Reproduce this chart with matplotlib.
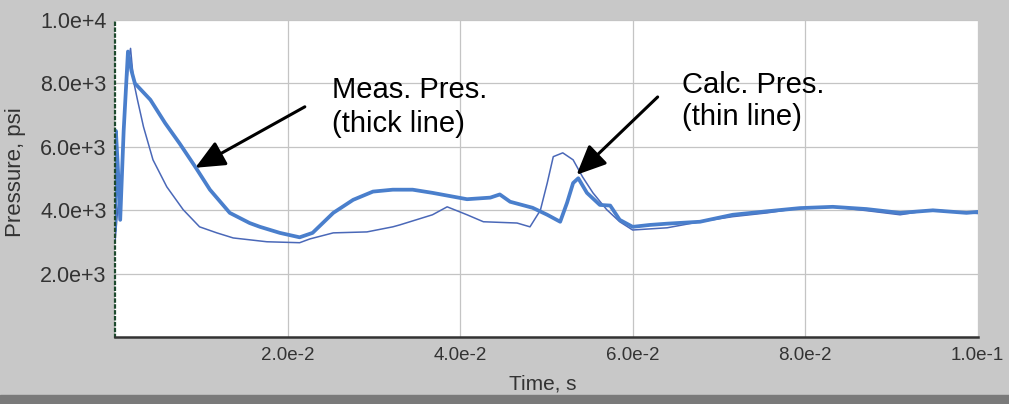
#!/usr/bin/env python
# measured vs calculated pressure trace
import numpy as np
import matplotlib.pyplot as plt

plt.rcParams['font.family'] = ['Liberation Sans', 'DejaVu Sans']

# measured pressure (thick line)
t_meas = [0.0, 0.0001, 0.0003, 0.0006, 0.001, 0.0015, 0.0019, 0.0023, 0.0041,
          0.0058, 0.0075, 0.0093, 0.011, 0.0133, 0.0156, 0.0168, 0.0191, 0.0214,
          0.0229, 0.0253, 0.0276, 0.0299, 0.0322, 0.0345, 0.0368, 0.0408, 0.0435,
          0.0446, 0.0458, 0.0484, 0.0501, 0.0516, 0.0524, 0.0531, 0.0537, 0.0547,
          0.0562, 0.0574, 0.0585, 0.06, 0.062, 0.064, 0.0678, 0.0716, 0.0756,
          0.0794, 0.0832, 0.0871, 0.091, 0.0948, 0.0987, 0.1]
p_meas = [3400, 6500, 5500, 3700, 6500, 9000, 8400, 8000, 7480,
          6750, 6100, 5370, 4650, 3920, 3600, 3480, 3290, 3150,
          3290, 3920, 4330, 4590, 4650, 4650, 4550, 4350, 4400,
          4500, 4270, 4080, 3860, 3640, 4240, 4860, 5010, 4550,
          4170, 4150, 3700, 3480, 3540, 3580, 3640, 3860, 3970,
          4070, 4110, 4040, 3920, 4000, 3920, 3950]

# calculated pressure (thin line)
t_calc = [0.0, 0.0003, 0.0008, 0.0012, 0.0016, 0.0018, 0.002, 0.0022, 0.0026,
          0.0033, 0.0044, 0.006, 0.0079, 0.0098, 0.0118, 0.0137, 0.0176, 0.0214,
          0.0226, 0.0253, 0.0292, 0.0322, 0.033, 0.0368, 0.0385, 0.0408, 0.0427,
          0.0466, 0.0481, 0.0493, 0.0501, 0.0508, 0.0519, 0.0531, 0.0542, 0.0554,
          0.057, 0.0585, 0.06, 0.064, 0.0678, 0.0716, 0.0756, 0.0794, 0.0832,
          0.0871, 0.091, 0.0948, 0.0987, 0.1]
p_calc = [3000, 4000, 5000, 7500, 8800, 9100, 8500, 8000, 7480,
          6630, 5590, 4740, 4020, 3480, 3290, 3130, 3010, 2980,
          3100, 3290, 3320, 3480, 3540, 3860, 4110, 3860, 3640,
          3600, 3480, 4000, 4860, 5690, 5810, 5590, 5050, 4550,
          4020, 3640, 3380, 3450, 3640, 3800, 3920, 4070, 4110,
          3990, 3860, 4020, 3920, 3900]

x_ticks = [0.02, 0.04, 0.06, 0.08, 0.1]
x_labels = ['2.0e-2', '4.0e-2', '6.0e-2', '8.0e-2', '1.0e-1']
y_ticks = [2000, 4000, 6000, 8000, 10000]
y_labels = ['2.0e+3', '4.0e+3', '6.0e+3', '8.0e+3', '1.0e+4']

fig = plt.figure(figsize=(10.09, 4.04), dpi=100, facecolor='#c8c8c8')
ax = fig.add_axes([0.114, 0.165, 0.855, 0.786])
ax.set_facecolor('white')

ax.plot(t_calc, p_calc, color='#4a68b8', lw=1.1)
ax.plot(t_meas, p_meas, color='#4a7fcc', lw=2.7)

ax.set_xlim(0, 0.1)
ax.set_ylim(0, 10000)
ax.set_xticks(x_ticks)
ax.set_xticklabels(x_labels)
ax.set_yticks(y_ticks)
ax.set_yticklabels(y_labels)
ax.tick_params(length=0, colors='#333333')
ax.tick_params(axis='x', labelsize=13.5, pad=7)
ax.tick_params(axis='y', labelsize=15.5, pad=6)
ax.grid(True, color='#c4c4c4', lw=0.9)

for s in ('top', 'right'):
    ax.spines[s].set_visible(False)
ax.spines['bottom'].set_color('#333333')
ax.spines['bottom'].set_linewidth(1.8)
ax.spines['left'].set_color('#1e4a2e')
ax.spines['left'].set_linestyle(':')
ax.spines['left'].set_linewidth(1.6)

ax.set_xlabel('Time, s', fontsize=15, color='#333333')
ax.set_ylabel('Pressure, psi', fontsize=16, color='#333333')
ax.xaxis.set_label_coords(0.496, -0.118)
ax.yaxis.set_label_coords(-0.103, 0.52)

# annotations: text and arrows
ax.text(0.0251, 7543, 'Meas. Pres.', fontsize=21, va='baseline', ha='left')
ax.text(0.0251, 6472, '(thick line)', fontsize=21, va='baseline', ha='left')
ax.text(0.0657, 7700, 'Calc. Pres.', fontsize=21, va='baseline', ha='left')
ax.text(0.0657, 6693, '(thin line)', fontsize=21, va='baseline', ha='left')

arrow = dict(arrowstyle='-|>,head_length=1.0,head_width=0.45', mutation_scale=18,
             color='black', lw=2.2, shrinkA=0, shrinkB=0)
ax.annotate('', xy=(0.0093, 5340), xytext=(0.0220, 7260), arrowprops=arrow)
ax.annotate('', xy=(0.0535, 5118), xytext=(0.0629, 7570), arrowprops=arrow)

# darker strip at the bottom of the frame
fig.patches.append(plt.Rectangle((0, 0), 1, 0.022, transform=fig.transFigure,
                                 color='#7a7a7a', zorder=0))

fig.savefig('out.png', dpi=100, facecolor=fig.get_facecolor())
